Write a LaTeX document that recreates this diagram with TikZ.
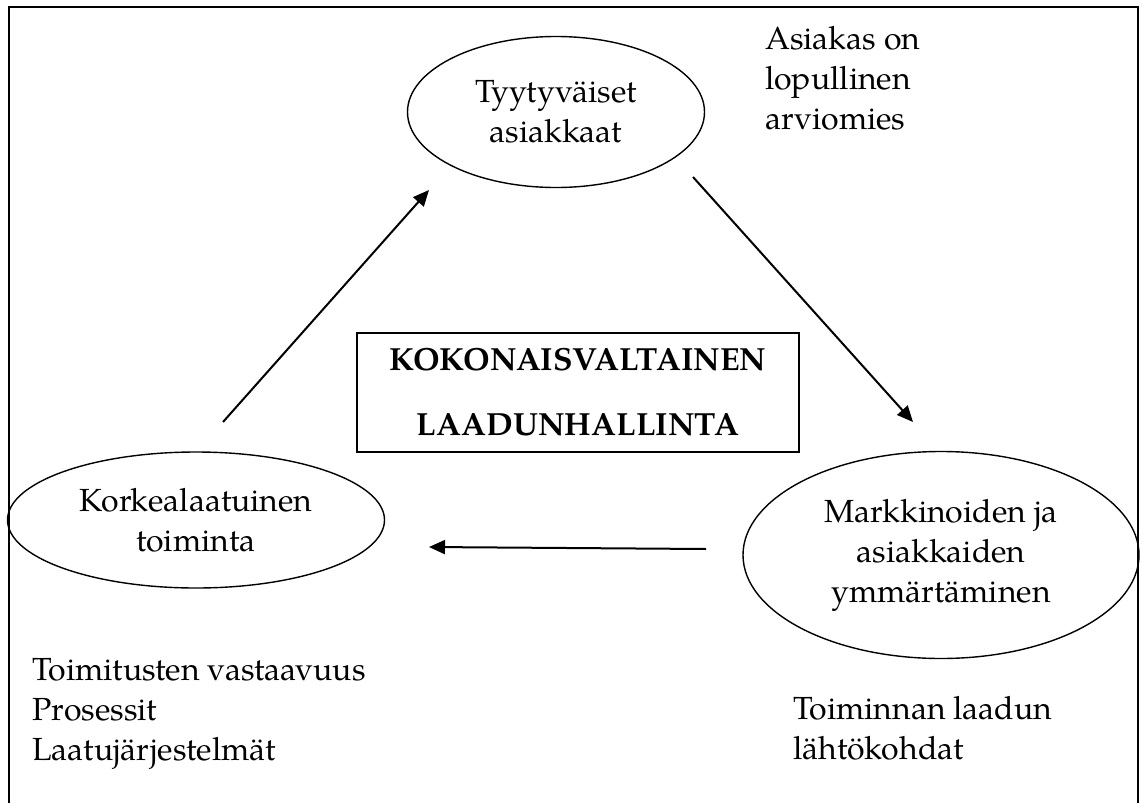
\documentclass[tikz,border=0pt]{standalone}
\usepackage{fontspec}
\setmainfont{TeX Gyre Pagella}
\usetikzlibrary{shapes.geometric,arrows.meta}
\begin{document}
\begin{tikzpicture}[x=1pt,y=-1pt,
  bodyfont/.style={font=\fontsize{32}{40}\selectfont},
  bubble/.style={bodyfont,draw,ellipse,line width=1.4pt,inner sep=0pt,align=center},
  core/.style={draw,line width=1.5pt,inner sep=0pt,align=center,
    font=\bfseries\fontsize{32}{65}\selectfont},
  flow/.style={line width=2pt,-{Triangle[length=16pt,width=14pt]}},
  note/.style={bodyfont,align=left,anchor=north west,inner sep=0pt}]
\useasboundingbox (0,0) rectangle (1142,803);

% outer frame, open at the bottom edge of the page
\draw[line width=2pt] (9,803) -- (9,7) -- (1138,7) -- (1138,803);

% the three stages of the cycle
\node[bubble,minimum width=297pt,minimum height=151pt] (top) at (556,112)
  {Tyytyväiset\\asiakkaat};
\node[bubble,minimum width=377pt,minimum height=136pt] (left) at (196,520)
  {Korkealaatuinen\\toiminta};
\node[bubble,minimum width=396pt,minimum height=207pt] (right) at (941,555)
  {Markkinoiden ja\\asiakkaiden\\ymmärtäminen};

% central concept
\node[core,minimum width=442pt,minimum height=119pt] (tqm) at (578,392.5)
  {KOKONAISVALTAINEN\\LAADUNHALLINTA};

% side notes
\node[note] (noteTop) at (765,26) {Asiakas on\\lopullinen\\arviomies};
\node[note] (noteLeft) at (32,658) {Toimitusten vastaavuus\\Prosessit\\Laatujärjestelmät};
\node[note] (noteRight) at (793,696.5) {Toiminnan laadun\\lähtökohdat};

% arrow end points
\coordinate (upFrom) at (223,422);
\coordinate (upTo) at (429,190);
\coordinate (downFrom) at (693,177);
\coordinate (downTo) at (913,422);
\coordinate (backFrom) at (706,549);
\coordinate (backTo) at (429,547);

\draw[flow] (upFrom) -- (upTo);
\draw[flow] (downFrom) -- (downTo);
\draw[flow] (backFrom) -- (backTo);
\end{tikzpicture}
\end{document}
